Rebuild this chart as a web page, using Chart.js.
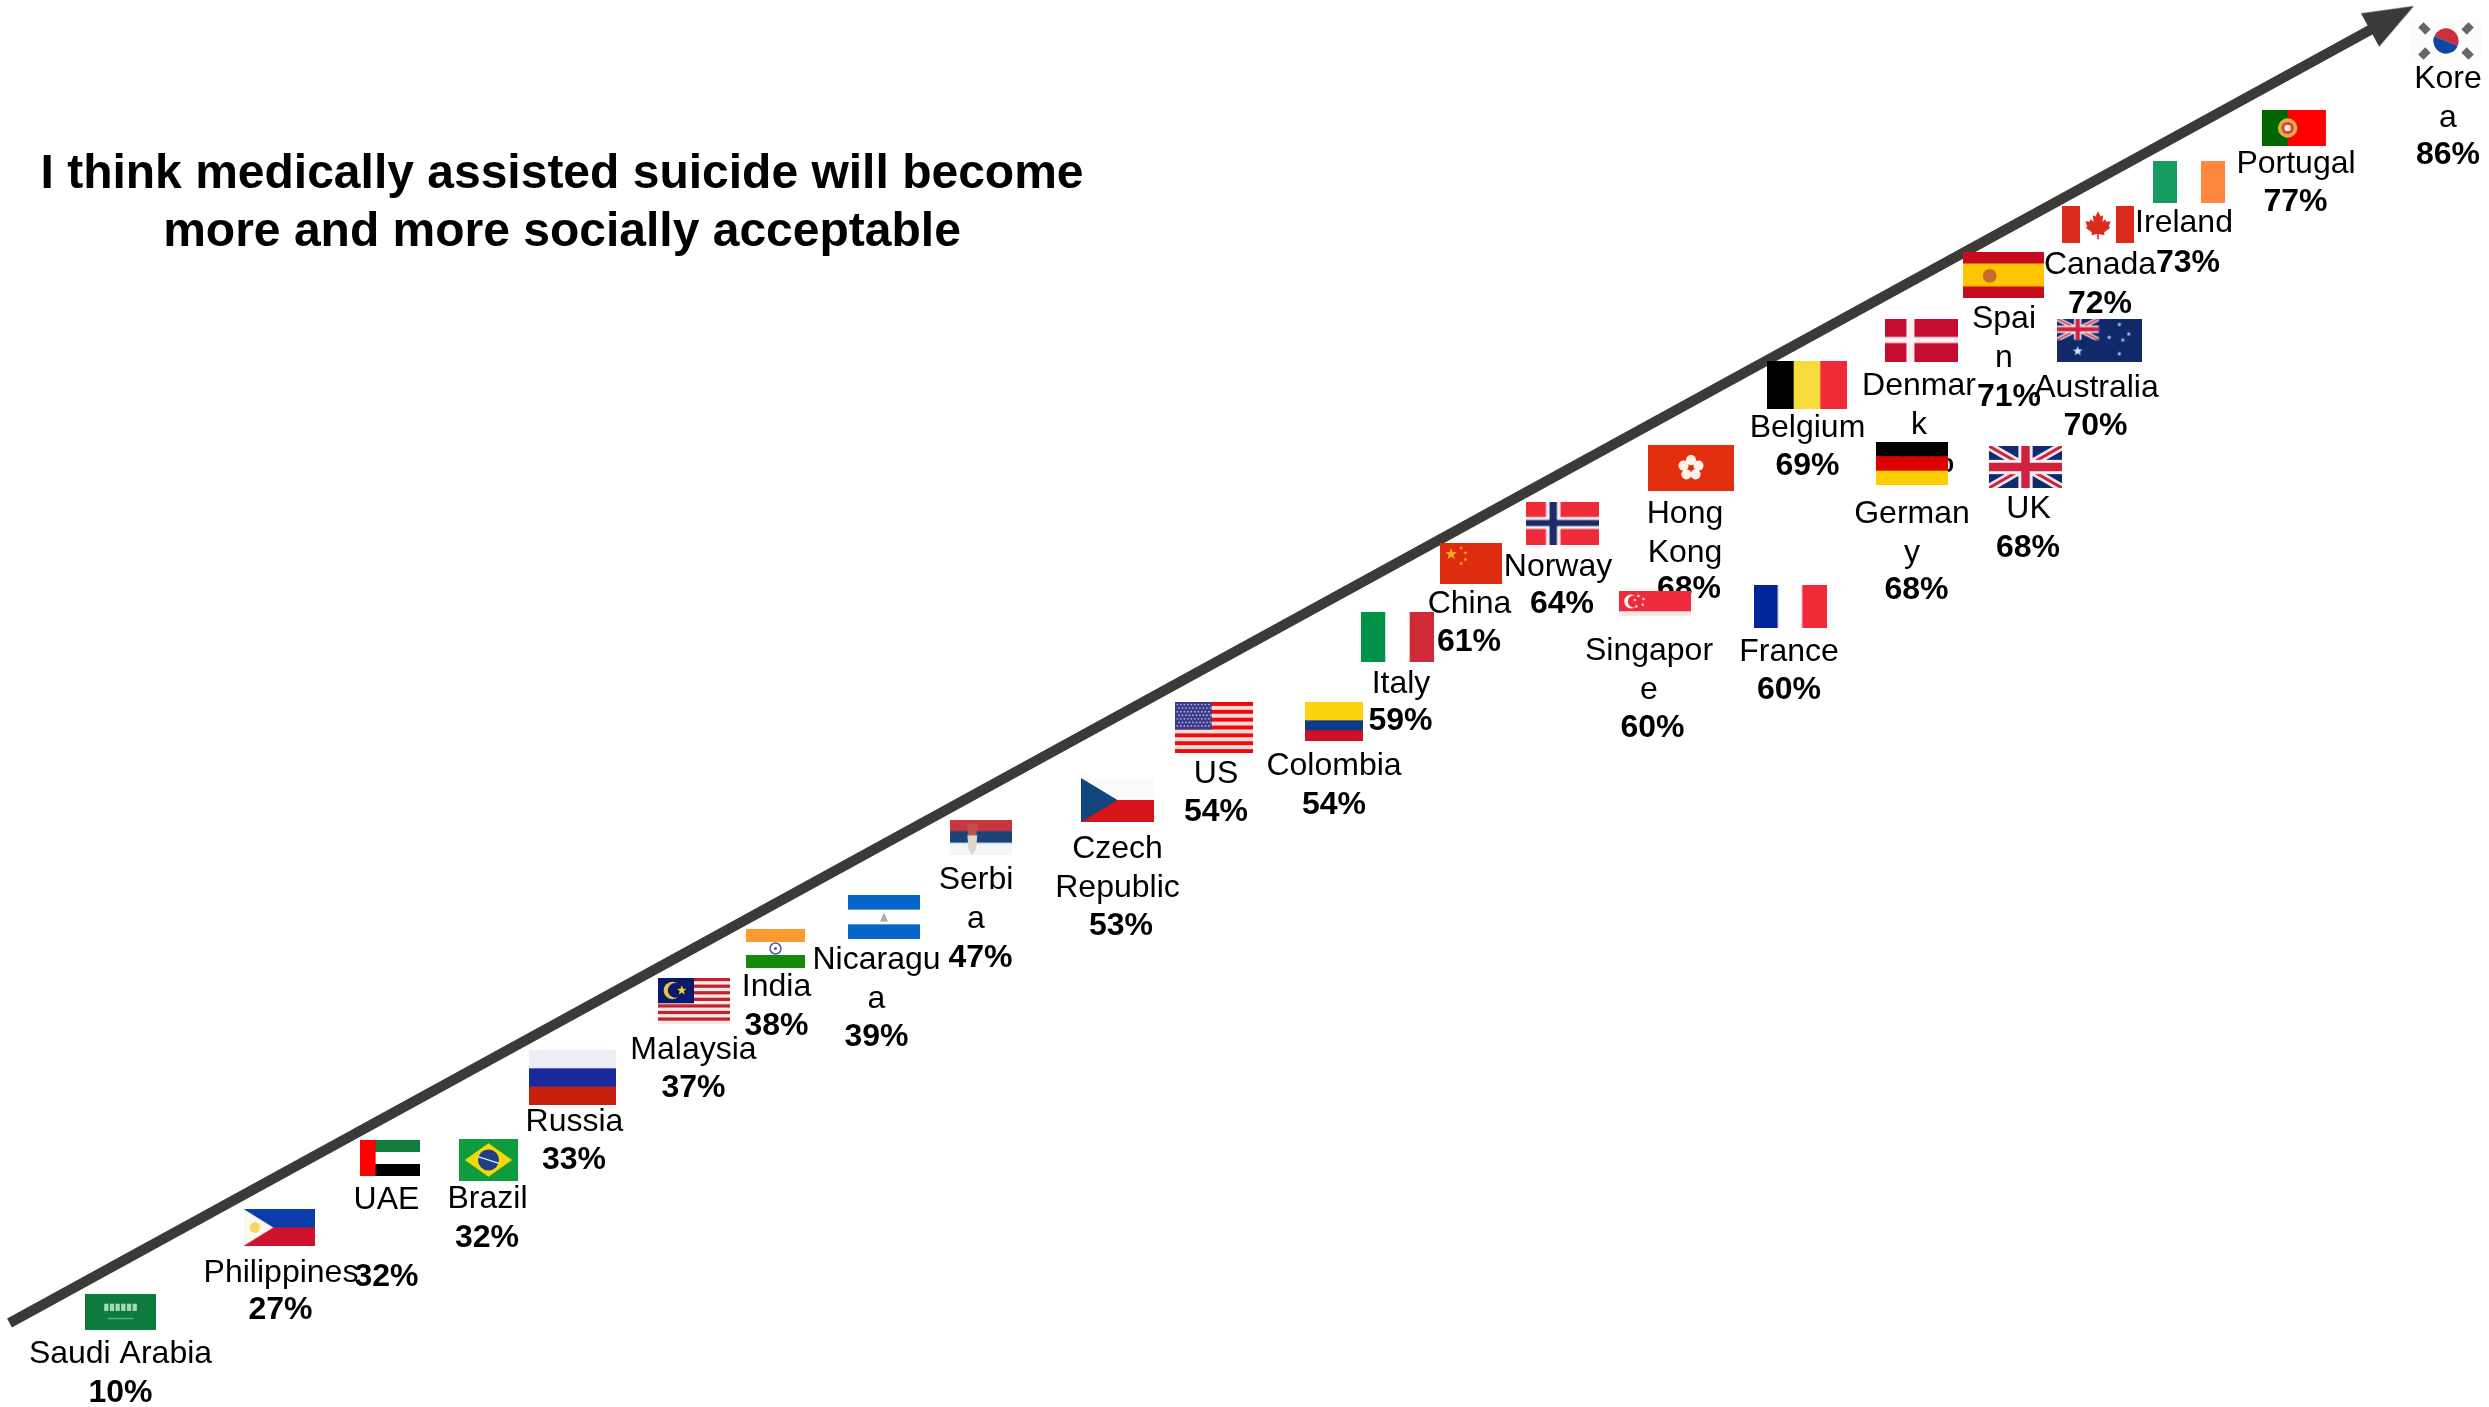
<!DOCTYPE html>
<html>
<head>
<meta charset="utf-8">
<title>Medically assisted suicide</title>
<script src="https://cdn.jsdelivr.net/npm/chart.js@4/dist/chart.umd.min.js"></script>
<style>
  html, body { margin: 0; padding: 0; background: #fff; }
  canvas { display: block; }
</style>
</head>
<body>
<canvas id="chart" width="2489" height="1407"></canvas>
<script>
const titleLines = ['I think medically assisted suicide will become', 'more and more socially acceptable'];

// Values. The chart has no visible axes, so x/y are in picture units.
const countries = ['Saudi Arabia', 'Philippines', 'UAE', 'Brazil', 'Russia', 'Malaysia', 'India',
  'Nicaragu\na', 'Serbi\na', 'Czech\nRepublic', 'US', 'Colombia', 'Italy', 'China', 'Norway',
  'Singapor\ne', 'France', 'Hong\nKong', 'Belgium', 'Denmar\nk', 'German\ny', 'UK',
  'Spai\nn', 'Australia', 'Canada', 'Ireland', 'Portugal', 'Kore\na'];
const percents = [10, 27, 32, 32, 33, 37, 38, 39, 47, 53, 54, 54, 59, 61, 64, 60, 60, 68, 69, 71, 68, 68, 71, 70, 72, 73, 77, 86];

const flagX = [120.5, 279, 390, 488.5, 572.5, 694, 775.5, 884, 981, 1117.5, 1214, 1334, 1397.5, 1471, 1562,
  1655, 1790, 1691, 1807, 1921, 1912, 2025.5, 2003.5, 2099, 2098, 2189, 2294, 2446];
const flagY = [1312, 1227.5, 1158, 1160, 1077.5, 1001, 948.5, 917, 837, 800, 727.5, 721.5, 637, 563.5, 523,
  603.5, 606.5, 468, 385, 340, 463.5, 467, 275, 340, 224.5, 182, 128, 41];

const nameX = [120.5, 281, 386.5, 487.5, 574.5, 693.5, 776.5, 876.5, 976, 1117.5, 1216, 1334, 1401, 1469.5, 1558,
  1649, 1789, 1685, 1807.5, 1919, 1912, 2028.5, 2004, 2096.5, 2100, 2184, 2296, 2448];
const nameY = [1352, 1271, 1198, 1197, 1120, 1048, 985, 958, 878, 847, 772, 764, 682, 602, 565,
  649, 650, 512, 426, 384, 512, 507, 317, 386, 263, 221, 162, 77];
const pctX = [120.5, 280.5, 386.5, 487, 574, 693.5, 776.5, 876.5, 980.5, 1121, 1216, 1334, 1400.5, 1469, 1562,
  1652.5, 1789, 1689, 1807.5, 1922, 1916.5, 2028, 2009, 2095.5, 2100, 2188, 2295.5, 2448];
const pctY = [1391, 1308, 1275, 1236, 1158, 1086, 1024, 1035, 956, 924, 810, 803, 719, 640, 602,
  726, 688, 587, 464, 461, 588, 546, 395, 424, 302, 261, 200, 153];

const arrowX = [9.5, 2392];
const arrowY = [1323, 18];

// Flag drawing
function hBands(c, w, h, colors, shares) {
  let y = 0;
  colors.forEach((col, i) => {
    const bh = h * (shares ? shares[i] : 1 / colors.length);
    c.fillStyle = col;
    c.fillRect(0, y, w, bh + 0.5);
    y += bh;
  });
}
function vBands(c, w, h, colors) {
  colors.forEach((col, i) => {
    c.fillStyle = col;
    c.fillRect(w * i / colors.length, 0, w / colors.length + 0.5, h);
  });
}
function star(c, x, y, r, col) {
  c.fillStyle = col;
  c.beginPath();
  for (let i = 0; i < 10; i++) {
    const a = -Math.PI / 2 + i * Math.PI / 5;
    const rr = i % 2 ? r * 0.42 : r;
    c.lineTo(x + Math.cos(a) * rr, y + Math.sin(a) * rr);
  }
  c.closePath();
  c.fill();
}
function dot(c, x, y, r, col) {
  c.fillStyle = col;
  c.beginPath();
  c.arc(x, y, r, 0, Math.PI * 2);
  c.fill();
}
function poly(c, col, pts) {
  c.fillStyle = col;
  c.beginPath();
  pts.forEach(p => c.lineTo(p[0], p[1]));
  c.closePath();
  c.fill();
}
function unionJack(c, w, h) {
  const t = Math.min(w, h);
  c.fillStyle = '#0f2a6e';
  c.fillRect(0, 0, w, h);
  c.strokeStyle = '#f2e6ea';
  c.lineWidth = t * 0.2;
  c.beginPath(); c.moveTo(0, 0); c.lineTo(w, h); c.moveTo(w, 0); c.lineTo(0, h); c.stroke();
  c.strokeStyle = '#d0223f';
  c.lineWidth = t * 0.07;
  c.beginPath(); c.moveTo(0, 0); c.lineTo(w, h); c.moveTo(w, 0); c.lineTo(0, h); c.stroke();
  c.fillStyle = '#f6eef0';
  c.fillRect(w / 2 - t * 0.17, 0, t * 0.34, h);
  c.fillRect(0, h / 2 - t * 0.17, w, t * 0.34);
  c.fillStyle = '#d0223f';
  c.fillRect(w / 2 - t * 0.1, 0, t * 0.2, h);
  c.fillRect(0, h / 2 - t * 0.1, w, t * 0.2);
}
function usStripes(c, w, h, red, pale, n) {
  for (let i = 0; i < n; i++) {
    c.fillStyle = i % 2 ? pale : red;
    c.fillRect(0, h * i / n, w, h / n + 0.5);
  }
}

const FLAGS = {
  'Saudi Arabia': [71, 36, (c, w, h) => {
    c.fillStyle = '#0d7a3e'; c.fillRect(0, 0, w, h);
    c.fillStyle = '#a9d6b6';
    for (let i = 0; i < 6; i++) c.fillRect(w * 0.27 + i * w * 0.08, h * 0.27, w * 0.06, h * 0.2);
    c.fillStyle = '#5fae80'; c.fillRect(w * 0.32, h * 0.66, w * 0.36, 1.5);
  }],
  'Philippines': [71, 37, (c, w, h) => {
    hBands(c, w, h, ['#0a3caa', '#ce1230']);
    poly(c, '#fbf8f0', [[0, 0], [w * 0.42, h / 2], [0, h]]);
    dot(c, w * 0.16, h / 2, h * 0.14, '#f6d560');
  }],
  'UAE': [60, 36, (c, w, h) => {
    hBands(c, w, h, ['#137d3d', '#ffffff', '#000000']);
    c.fillStyle = '#ff0000'; c.fillRect(0, 0, w * 0.26, h);
  }],
  'Brazil': [59, 42, (c, w, h) => {
    c.fillStyle = '#0f9c3c'; c.fillRect(0, 0, w, h);
    poly(c, '#f5d90a', [[w * 0.1, h / 2], [w / 2, h * 0.1], [w * 0.9, h / 2], [w / 2, h * 0.9]]);
    dot(c, w / 2, h / 2, h * 0.25, '#1d3f85');
    c.strokeStyle = '#e8e8e8'; c.lineWidth = 1.5;
    c.beginPath(); c.moveTo(w * 0.32, h * 0.42); c.lineTo(w * 0.68, h * 0.58); c.stroke();
  }],
  'Russia': [87, 55, (c, w, h) => hBands(c, w, h, ['#eceef3', '#1a2a9c', '#c8200c'])],
  'Malaysia': [72, 46, (c, w, h) => {
    usStripes(c, w, h, '#c0252f', '#fbe8e8', 14);
    c.fillStyle = '#0a1a6b'; c.fillRect(0, 0, w * 0.5, h * 0.55);
    dot(c, w * 0.2, h * 0.27, h * 0.19, '#e6c14a');
    dot(c, w * 0.24, h * 0.27, h * 0.16, '#0a1a6b');
    star(c, w * 0.33, h * 0.27, h * 0.11, '#f5cf2e');
  }],
  'India': [59, 39, (c, w, h) => {
    hBands(c, w, h, ['#ff9a30', '#ffffff', '#148a0c']);
    c.strokeStyle = '#4a5aa8'; c.lineWidth = 1.5;
    c.beginPath(); c.arc(w / 2, h / 2, h * 0.14, 0, Math.PI * 2); c.stroke();
    dot(c, w / 2, h / 2, 1.5, '#4a5aa8');
  }],
  'Nicaragua': [72, 44, (c, w, h) => {
    hBands(c, w, h, ['#0566c8', '#ffffff', '#0566c8']);
    poly(c, '#a8b0a0', [[w / 2 - 4, h * 0.6], [w / 2, h * 0.4], [w / 2 + 4, h * 0.6]]);
  }],
  'Serbia': [62, 35, (c, w, h) => {
    hBands(c, w, h, ['#c8363f', '#1a4478', '#f3f5f8']);
    poly(c, '#c0504a', [[w * 0.26, h * 0.12], [w * 0.46, h * 0.12], [w * 0.42, h * 0.45], [w * 0.3, h * 0.45]]);
    poly(c, '#dcd5d0', [[w * 0.28, h * 0.45], [w * 0.44, h * 0.45], [w * 0.42, h * 0.85], [w * 0.36, h], [w * 0.3, h * 0.85]]);
  }],
  'Czech': [73, 44, (c, w, h) => {
    hBands(c, w, h, ['#fbfbfb', '#d7141a']);
    poly(c, '#11457e', [[0, 0], [w * 0.5, h / 2], [0, h]]);
  }],
  'US': [78, 51, (c, w, h) => {
    usStripes(c, w, h, '#f00a0a', '#f6dcdc', 13);
    c.fillStyle = '#3a3a8a'; c.fillRect(0, 0, w * 0.47, h * 0.54);
    for (let r = 0; r < 7; r++) {
      for (let q = 0; q < 10; q++) {
        dot(c, w * 0.03 + q * w * 0.045 + (r % 2) * w * 0.02, h * 0.05 + r * h * 0.07, 0.9, '#b0b0d8');
      }
    }
  }],
  'Colombia': [58, 39, (c, w, h) => hBands(c, w, h, ['#fdd20e', '#0f3a8c', '#ce1126'], [0.47, 0.26, 0.27])],
  'Italy': [73, 50, (c, w, h) => vBands(c, w, h, ['#009246', '#ffffff', '#ce2b37'])],
  'China': [62, 41, (c, w, h) => {
    c.fillStyle = '#de2c10'; c.fillRect(0, 0, w, h);
    star(c, w * 0.18, h * 0.27, h * 0.15, '#f7a520');
    [[0.34, 0.12], [0.41, 0.24], [0.41, 0.4], [0.34, 0.5]].forEach(p => star(c, w * p[0], h * p[1], h * 0.055, '#f7a520'));
  }],
  'Norway': [73, 43, (c, w, h) => {
    c.fillStyle = '#ef2b3a'; c.fillRect(0, 0, w, h);
    c.fillStyle = '#f4eef2';
    c.fillRect(w * 0.28, 0, w * 0.2, h);
    c.fillRect(0, h * 0.36, w, h * 0.28);
    c.fillStyle = '#1c2a66';
    c.fillRect(w * 0.33, 0, w * 0.1, h);
    c.fillRect(0, h * 0.43, w, h * 0.14);
  }],
  'Singapore': [72, 25, (c, w, h) => {
    c.fillStyle = '#ee2a3c'; c.fillRect(0, 0, w, h * 0.82);
    c.fillStyle = '#fbe9ea'; c.fillRect(0, h * 0.82, w, h * 0.18);
    dot(c, w * 0.17, h * 0.42, h * 0.28, '#ffffff');
    dot(c, w * 0.21, h * 0.42, h * 0.25, '#ee2a3c');
    [[0.27, 0.2], [0.34, 0.32], [0.33, 0.55], [0.24, 0.62], [0.22, 0.36]].forEach(p => dot(c, w * p[0], h * p[1], 1.3, '#fbdde0'));
  }],
  'France': [73, 43, (c, w, h) => vBands(c, w, h, ['#02249a', '#ffffff', '#ef2b3a'])],
  'Hong Kong': [86, 46, (c, w, h) => {
    c.fillStyle = '#e2300e'; c.fillRect(0, 0, w, h);
    for (let i = 0; i < 5; i++) {
      const a = -Math.PI / 2 + i * Math.PI * 2 / 5;
      dot(c, w / 2 + Math.cos(a) * h * 0.17, h / 2 + Math.sin(a) * h * 0.17, h * 0.11, '#fff3ec');
    }
    dot(c, w / 2, h / 2, h * 0.05, '#e2300e');
  }],
  'Belgium': [80, 48, (c, w, h) => vBands(c, w, h, ['#000000', '#f8dc3e', '#ef2b3a'])],
  'Denmark': [73, 43, (c, w, h) => {
    c.fillStyle = '#c60c30'; c.fillRect(0, 0, w, h);
    c.fillStyle = '#fdf0f2';
    c.fillRect(w * 0.3, 0, w * 0.11, h);
    c.fillRect(0, h * 0.43, w, h * 0.14);
  }],
  'Germany': [72, 43, (c, w, h) => hBands(c, w, h, ['#000000', '#dd0000', '#ffce00'])],
  'UK': [73, 42, unionJack],
  'Spain': [81, 46, (c, w, h) => {
    hBands(c, w, h, ['#c60b1e', '#ffc400', '#c60b1e'], [0.25, 0.5, 0.25]);
    dot(c, w * 0.33, h * 0.52, h * 0.15, '#c86a30');
  }],
  'Australia': [85, 43, (c, w, h) => {
    c.fillStyle = '#10296b'; c.fillRect(0, 0, w, h);
    c.save();
    c.beginPath(); c.rect(0, 0, w / 2, h / 2); c.clip();
    unionJack(c, w / 2, h / 2);
    c.restore();
    star(c, w * 0.25, h * 0.76, h * 0.12, '#dbe6f8');
    [[0.74, 0.14], [0.62, 0.44], [0.85, 0.36], [0.74, 0.82], [0.78, 0.5]].forEach(p => star(c, w * p[0], h * p[1], h * 0.055, '#c8dcf8'));
  }],
  'Canada': [72, 37, (c, w, h) => {
    vBands(c, w, h, ['#dc2a1c', '#ffffff', '#ffffff', '#dc2a1c']);
    const x = w / 2, y = h / 2, s = h * 0.36;
    poly(c, '#dc2a1c', [[0, -1], [0.2, -0.6], [0.4, -0.7], [0.32, -0.2], [0.55, -0.4], [0.62, -0.2], [0.95, -0.25],
      [0.8, 0.15], [0.92, 0.25], [0.45, 0.6], [0.5, 0.8], [0.06, 0.72], [0.06, 1.1], [-0.06, 1.1], [-0.06, 0.72], [-0.5, 0.8],
      [-0.45, 0.6], [-0.92, 0.25], [-0.8, 0.15], [-0.95, -0.25], [-0.62, -0.2], [-0.55, -0.4], [-0.32, -0.2], [-0.4, -0.7], [-0.2, -0.6]]
      .map(p => [x + p[0] * s, y + p[1] * s]));
  }],
  'Ireland': [72, 42, (c, w, h) => vBands(c, w, h, ['#169b62', '#ffffff', '#ff883e'])],
  'Portugal': [64, 36, (c, w, h) => {
    c.fillStyle = '#ff0000'; c.fillRect(0, 0, w, h);
    c.fillStyle = '#006600'; c.fillRect(0, 0, w * 0.4, h);
    dot(c, w * 0.4, h / 2, h * 0.27, '#e0b040');
    dot(c, w * 0.4, h / 2, h * 0.17, '#d84030');
    dot(c, w * 0.4, h / 2, h * 0.09, '#eeeeee');
  }],
  'Korea': [72, 42, (c, w, h) => {
    c.fillStyle = '#fcfcfc'; c.fillRect(0, 0, w, h);
    const x = w / 2, y = h / 2, r = h * 0.3;
    c.fillStyle = '#cd2e3a';
    c.beginPath(); c.arc(x, y, r, Math.PI * 1.12, Math.PI * 0.12); c.fill();
    c.fillStyle = '#0f47a0';
    c.beginPath(); c.arc(x, y, r, Math.PI * 0.12, Math.PI * 1.12); c.fill();
    [[0.2, 0.2, 1], [0.8, 0.2, -1], [0.2, 0.8, -1], [0.8, 0.8, 1]].forEach(p => {
      c.save();
      c.translate(w * p[0], h * p[1]);
      c.rotate(p[2] * Math.PI / 4);
      c.fillStyle = '#666666';
      c.fillRect(-h * 0.12, -h * 0.09, h * 0.24, h * 0.18);
      c.restore();
    });
  }],
};

function flagCanvas(name) {
  const key = Object.keys(FLAGS).find(k => name.replace('\n', '').startsWith(k.slice(0, 4)));
  const [w, h, paint] = FLAGS[key];
  const cv = document.createElement('canvas');
  cv.width = w;
  cv.height = h;
  paint(cv.getContext('2d'), w, h);
  return cv;
}

function arrowHead() {
  const cv = document.createElement('canvas');
  cv.width = 50;
  cv.height = 38;
  poly(cv.getContext('2d'), '#3b3a38', [[0, 0], [50, 19], [0, 38]]);
  return cv;
}

// Text goes under the flags, so a flag can hide a label like in the original
const textPlugin = {
  id: 'flagText',
  beforeDatasetsDraw(chart) {
    const { ctx, scales: { x, y } } = chart;
    const nudge = 2.5; // canvas 'middle' sits a bit high against the read centres
    ctx.save();
    ctx.textAlign = 'center';
    ctx.textBaseline = 'middle';
    ctx.fillStyle = '#000';
    countries.forEach((name, i) => {
      ctx.font = '32px "Liberation Sans", Arial, sans-serif';
      name.split('\n').forEach((line, k) => {
        ctx.fillText(line, x.getPixelForValue(nameX[i]), y.getPixelForValue(nameY[i]) + nudge + k * 38.6);
      });
      ctx.font = 'bold 32px "Liberation Sans", Arial, sans-serif';
      ctx.fillText(percents[i] + '%', x.getPixelForValue(pctX[i]), y.getPixelForValue(pctY[i]) + nudge);
    });
    ctx.font = 'bold 48px "Liberation Sans", Arial, sans-serif';
    titleLines.forEach((line, k) => ctx.fillText(line, x.getPixelForValue(562), y.getPixelForValue(172 + k * 58) + nudge));
    ctx.restore();
  },
};

new Chart(document.getElementById('chart'), {
  type: 'scatter',
  data: {
    datasets: [
      {
        label: 'Countries',
        data: flagX.map((v, i) => ({ x: v, y: flagY[i] })),
        pointStyle: countries.map(flagCanvas),
        pointRadius: 10,
        clip: false,
      },
      {
        label: 'Arrow',
        data: arrowX.map((v, i) => ({ x: v, y: arrowY[i] })),
        showLine: true,
        borderColor: '#3b3a38',
        borderWidth: 10,
        borderCapStyle: 'butt',
        pointStyle: [false, arrowHead()],
        pointRadius: [0, 10],
        pointRotation: -28.7,
        clip: false,
      },
    ],
  },
  options: {
    responsive: false,
    animation: false,
    layout: { padding: 0, autoPadding: false },
    plugins: { legend: { display: false }, tooltip: { enabled: false }, title: { display: false } },
    scales: {
      x: { display: false, min: 0, max: 2489 },
      y: { display: false, min: 0, max: 1407, reverse: true },
    },
  },
  plugins: [textPlugin],
});
</script>
</body>
</html>
